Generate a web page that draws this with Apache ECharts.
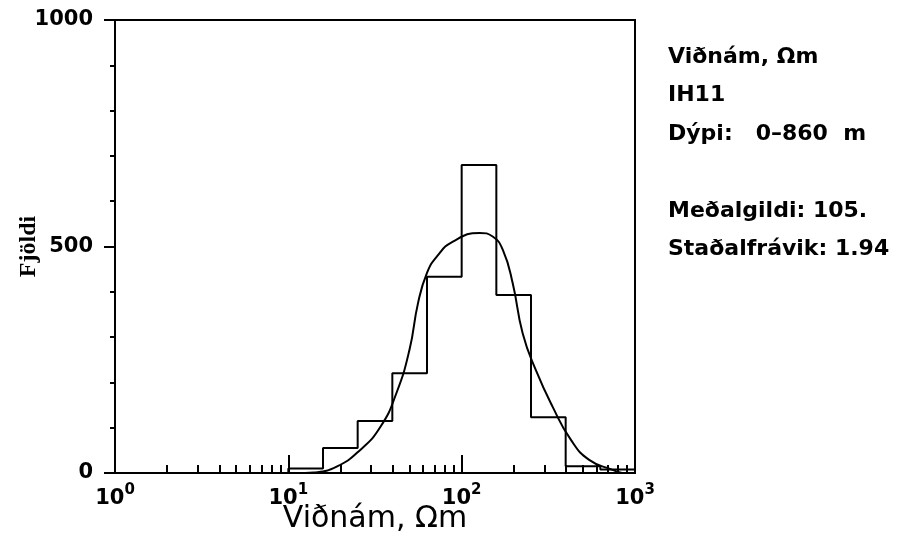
<!DOCTYPE html>
<html>
<head>
<meta charset="utf-8">
<script src="https://cdn.jsdelivr.net/npm/echarts@6/dist/echarts.min.js"></script>
<style>
  html, body { margin: 0; padding: 0; background: #fff; }
  #chart { width: 898px; height: 537px; }
</style>
</head>
<body>
<div id="chart"></div>
<script>
// histogram bins (0.2 decade wide), Viðnám in Ωm
const binEdges = [10, 15.85, 25.12, 39.81, 63.1, 100, 158.5, 251.2, 398.1, 631, 1000];
const binCounts = [10, 55, 115, 220, 433, 680, 393, 123, 15, 8];

// fitted curve
const curveX = [12.5, 14, 19, 26, 34, 42, 50, 56, 63, 72, 89, 127, 151, 173, 197, 225, 268, 335, 427, 544, 741, 840];
const curveY = [0, 1, 14, 51, 102, 176, 272, 375, 441, 478, 511, 530, 522, 492, 419, 308, 227, 146, 73, 29, 7, 0];

const majorXTicks = [1, 10, 100, 1000];
const minorXTicks = [2, 3, 4, 5, 6, 7, 8, 9, 20, 30, 40, 50, 60, 70, 80, 90, 200, 300, 400, 500, 600, 700, 800, 900];

const infoLines = ['Viðnám, Ωm', 'IH11', 'Dýpi:   0–860  m', '', 'Meðalgildi: 105.', 'Staðalfrávik: 1.94'];

const FONT = 'DejaVu Sans';

// step outline of the histogram
const histData = [[binEdges[0], 0]];
binCounts.forEach((c, i) => histData.push([binEdges[i], c]));
histData.push([binEdges[binEdges.length - 1], 0]);

const curveData = curveX.map((x, i) => [x, curveY[i]]);

const chart = echarts.init(document.getElementById('chart'), null, { renderer: 'canvas' });

chart.setOption({
  animation: false,
  backgroundColor: '#fff',
  grid: {
    left: 115, top: 20, right: 263, bottom: 64,
    outerBoundsMode: 'none', containLabel: false,
    show: true, borderColor: '#000', borderWidth: 2
  },
  xAxis: [
    {
      type: 'log', logBase: 10, min: 1, max: 1000,
      name: 'Viðnám, Ωm', nameLocation: 'middle', nameGap: 31, nameMoveOverlap: false,
      nameTextStyle: { fontFamily: FONT, fontSize: 30, color: '#000', verticalAlign: 'top' },
      axisLine: { lineStyle: { color: '#000', width: 2 } },
      axisTick: { inside: true, length: 18, customValues: majorXTicks, lineStyle: { color: '#000', width: 2 } },
      splitLine: { show: false },
      axisLabel: {
        customValues: majorXTicks,
        margin: 10,
        fontSize: 21,
        formatter: v => '{b|10}{e|' + Math.round(Math.log10(v)) + '}',
        rich: {
          b: { fontFamily: FONT, fontSize: 21, fontWeight: 'bold', color: '#000', lineHeight: 28 },
          e: { fontFamily: FONT, fontSize: 15, fontWeight: 'bold', color: '#000', padding: [0, 0, 16, 0] }
        }
      }
    },
    {
      type: 'log', logBase: 10, min: 1, max: 1000, position: 'bottom',
      axisLine: { show: false },
      axisTick: { inside: true, length: 8, customValues: minorXTicks, lineStyle: { color: '#000', width: 2 } },
      axisLabel: { show: false },
      splitLine: { show: false }
    }
  ],
  yAxis: [
    {
      type: 'value', min: 0, max: 1000, interval: 500,
      name: 'Fjöldi', nameLocation: 'middle', nameGap: 74, nameMoveOverlap: false,
      nameTextStyle: { fontFamily: 'Liberation Serif', fontSize: 24, fontWeight: 'bold', color: '#000' },
      axisLine: { show: true, lineStyle: { color: '#000', width: 2 } },
      axisTick: { show: true, length: 11, lineStyle: { color: '#000', width: 2 } },
      splitLine: { show: false },
      axisLabel: { margin: 22, fontFamily: FONT, fontSize: 21, fontWeight: 'bold', color: '#000', formatter: v => String(v) }
    },
    {
      type: 'value', min: 0, max: 1000, interval: 100, position: 'left',
      axisLine: { show: false },
      axisTick: { show: true, length: 5, lineStyle: { color: '#000', width: 2 } },
      axisLabel: { show: false },
      splitLine: { show: false }
    }
  ],
  series: [
    {
      name: 'Fjöldi', type: 'line', step: 'end', data: histData,
      symbol: 'none', lineStyle: { color: '#000', width: 2 }
    },
    {
      name: 'ferill', type: 'line', smooth: 0.5, data: curveData,
      symbol: 'none', lineStyle: { color: '#000', width: 2 }
    }
  ],
  graphic: infoLines.map((t, i) => ({
    type: 'text', left: 668, top: 46 + i * 38.5,
    style: { text: t, fontFamily: FONT, fontSize: 22, fontWeight: 'bold', fill: '#000' }
  }))
});
</script>
</body>
</html>
